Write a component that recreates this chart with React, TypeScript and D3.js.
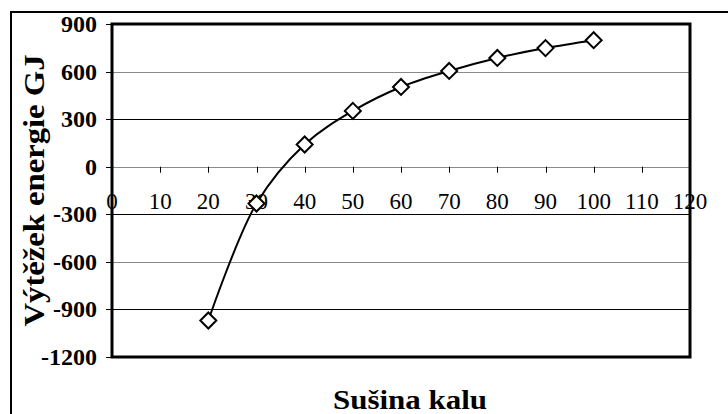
import React from "react";
import * as d3 from "d3";

const sushina = [20, 30, 40, 50, 60, 70, 80, 90, 100];
const vytezek = [-970, -232, 140, 352, 503, 604, 686, 748, 798];
const xTicks = [0, 10, 20, 30, 40, 50, 60, 70, 80, 90, 100, 110, 120];
const yTicks = [900, 600, 300, 0, -300, -600, -900, -1200];

const W = 728;
const H = 414;
const plot = { left: 112, top: 24, right: 690, bottom: 357 };
const FONT = "\"Liberation Serif\", \"Times New Roman\", serif";

const yLabelStyle = { fontFamily: FONT, fontWeight: 700, fontSize: "24px" };
const xLabelStyle = { fontFamily: FONT, fontWeight: 400, fontSize: "23px" };
const titleStyle = { fontFamily: FONT, fontWeight: 700, fontSize: "27px" };

export default function App() {
    const x = d3.scaleLinear().domain([0, 120]).range([plot.left, plot.right]);
    const y = d3.scaleLinear().domain([-1200, 900]).range([plot.bottom, plot.top]);

    const pts: [number, number][] = sushina.map((s, i) => [x(s), y(vytezek[i])]);
    const line = d3.line().curve(d3.curveCatmullRom.alpha(0.5))(pts) || "";
    const diamond = (cx: number, cy: number, r = 8) =>
        `M${cx},${cy - r}L${cx + r},${cy}L${cx},${cy + r}L${cx - r},${cy}Z`;

    return (
        <svg width={W} height={H} style={{ position: "absolute", left: 0, top: 0, background: "#fff" }}>
            {/* outer chart frame */}
            <line x1={11} y1={12} x2={W} y2={12} stroke="#000" strokeWidth={2} />
            <line x1={11} y1={11} x2={11} y2={H} stroke="#000" strokeWidth={2} />

            {/* gridlines */}
            {yTicks.slice(1, -1).map((t, i) => (
                <line key={t} x1={plot.left} x2={plot.right} y1={Math.round(y(t)) + 0.5} y2={Math.round(y(t)) + 0.5}
                    stroke={i % 2 === 0 ? "#8a8a8a" : "#000"} strokeWidth={1} />
            ))}

            {/* y ticks + labels */}
            {yTicks.map((t) => (
                <g key={t}>
                    <line x1={plot.left - 6} x2={plot.left} y1={Math.round(y(t)) + 0.5} y2={Math.round(y(t)) + 0.5} stroke="#000" />
                    <text x={97} y={y(t) + 8} textAnchor="end" style={yLabelStyle}>{t}</text>
                </g>
            ))}

            {/* x axis at zero */}
            {xTicks.slice(1, -1).map((t) => (
                <line key={t} x1={Math.round(x(t)) + 0.5} x2={Math.round(x(t)) + 0.5} y1={y(0)} y2={y(0) + 6} stroke="#000" />
            ))}
            {xTicks.map((t) => (
                <text key={t} x={x(t)} y={209} textAnchor="middle" style={xLabelStyle}>{t}</text>
            ))}

            {/* plot frame */}
            <rect x={plot.left} y={plot.top} width={plot.right - plot.left} height={plot.bottom - plot.top}
                fill="none" stroke="#000" strokeWidth={3} />

            {/* series */}
            <path d={line} fill="none" stroke="#000" strokeWidth={2} />
            {pts.map(([cx, cy], i) => (
                <path key={i} d={diamond(cx, cy)} fill="#fff" stroke="#000" strokeWidth={2} />
            ))}

            {/* axis titles */}
            <text x={410} y={409} textAnchor="middle" style={titleStyle}
                textLength={154} lengthAdjust="spacingAndGlyphs">Sušina kalu</text>
            <text transform={`translate(44,${(plot.top + plot.bottom) / 2}) rotate(-90)`} textAnchor="middle"
                style={{ ...titleStyle, fontSize: "29px" }} textLength={272} lengthAdjust="spacingAndGlyphs">Výtěžek energie GJ</text>
        </svg>
    );
}
